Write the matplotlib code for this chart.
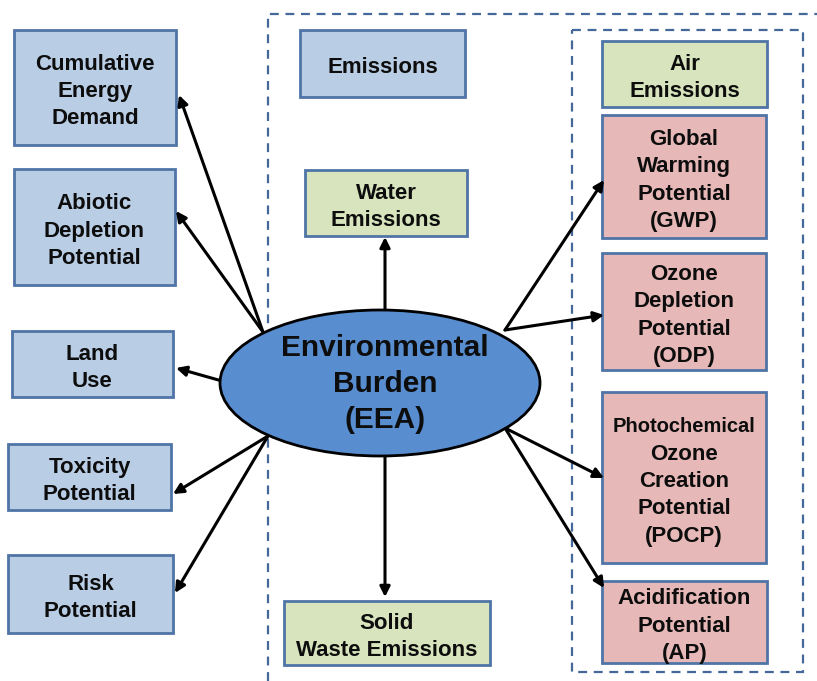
import matplotlib

matplotlib.use("Agg")

import matplotlib.pyplot as plt
from matplotlib.patches import Ellipse, Rectangle

# box labels, grouped by colour
impact_labels = [
    "Cumulative\nEnergy\nDemand",
    "Abiotic\nDepletion\nPotential",
    "Land\nUse",
    "Toxicity\nPotential",
    "Risk\nPotential",
]
emission_labels = ["Emissions"]
medium_labels = ["Water\nEmissions", "Solid\nWaste Emissions", "Air\nEmissions"]
air_impact_labels = [
    "Global\nWarming\nPotential\n(GWP)",
    "Ozone\nDepletion\nPotential\n(ODP)",
    "Photochemical\nOzone\nCreation\nPotential\n(POCP)",
    "Acidification\nPotential\n(AP)",
]
center_label = "Environmental\nBurden\n(EEA)"

# layout in pixel coords (x0, y0, x1, y1), y grows downward
impact_boxes = [(14, 30, 176, 145), (14, 169, 175, 285), (12, 331, 173, 397),
                (8, 444, 171, 510), (8, 555, 173, 633)]
emission_boxes = [(300, 30, 465, 97)]
medium_boxes = [(305, 170, 467, 236), (284, 601, 490, 665), (602, 41, 767, 107)]
air_impact_boxes = [(602, 115, 766, 238), (602, 253, 766, 370),
                    (602, 392, 766, 563), (602, 581, 767, 663)]

# arrows: (start, end)
arrows = [
    ((263, 332), (179, 95)),
    ((263, 332), (176, 211)),
    ((222, 381), (176, 368)),
    ((268, 436), (173, 494)),
    ((268, 436), (175, 593)),
    ((385, 310), (385, 237)),
    ((385, 456), (385, 597)),
    ((505, 330), (604, 180)),
    ((505, 330), (604, 315)),
    ((505, 428), (604, 478)),
    ((505, 428), (604, 588)),
]

BLUE_FILL, BLUE_EDGE = "#B9CDE5", "#4F74A6"
GREEN_FILL = "#D7E4BD"
RED_FILL = "#E6B9B8"
DASH = "#44689A"
PITCH = 27.5  # px between text lines in boxes

W, H = 817, 681
fig = plt.figure(figsize=(W / 100, H / 100), dpi=100)
ax = fig.add_axes([0, 0, 1, 1])
ax.set_xlim(0, W)
ax.set_ylim(H, 0)
ax.axis("off")

font = dict(family=["Liberation Sans", "DejaVu Sans"], fontweight="bold",
            ha="center", va="center", color="#0d0d0d")


def draw_boxes(labels, boxes, fill, first_size=16):
    for label, (x0, y0, x1, y1) in zip(labels, boxes):
        ax.add_patch(Rectangle((x0, y0), x1 - x0, y1 - y0, facecolor=fill,
                               edgecolor=BLUE_EDGE, linewidth=2, zorder=2))
        lines = label.split("\n")
        cy = (y0 + y1) / 2 + 4
        top = cy - PITCH * (len(lines) - 1) / 2
        for i, line in enumerate(lines):
            size = first_size if i == 0 else 16
            ax.text((x0 + x1) / 2, top + i * PITCH, line, fontsize=size,
                    zorder=3, **font)


# dashed containers
ax.plot([268, 268, W], [H, 14, 14], color=DASH, lw=1.6, ls=(0, (4, 3)), zorder=1)
ax.add_patch(Rectangle((572, 30), 231, 642, fill=False, edgecolor=DASH,
                       lw=1.6, ls=(0, (4, 3)), zorder=1))

draw_boxes(impact_labels, impact_boxes, BLUE_FILL)
draw_boxes(emission_labels, emission_boxes, BLUE_FILL)
draw_boxes(medium_labels, medium_boxes, GREEN_FILL)
first_sizes = [16, 16, 14.5, 16]
for lab, box, s in zip(air_impact_labels, air_impact_boxes, first_sizes):
    draw_boxes([lab], [box], RED_FILL, first_size=s)

for (sx, sy), (ex, ey) in arrows:
    ax.annotate("", xy=(ex, ey), xytext=(sx, sy),
                arrowprops=dict(arrowstyle="-|>,head_length=0.6,head_width=0.3",
                                color="black", lw=2.2, shrinkA=0, shrinkB=0),
                zorder=4)

ax.add_patch(Ellipse((380, 383), 320, 146, facecolor="#588DD0",
                     edgecolor="black", linewidth=2, zorder=5))
for i, line in enumerate(center_label.split("\n")):
    ax.text(385, 348 + i * 36, line, fontsize=21.5, zorder=6, **font)

fig.savefig("out.png", dpi=100)
